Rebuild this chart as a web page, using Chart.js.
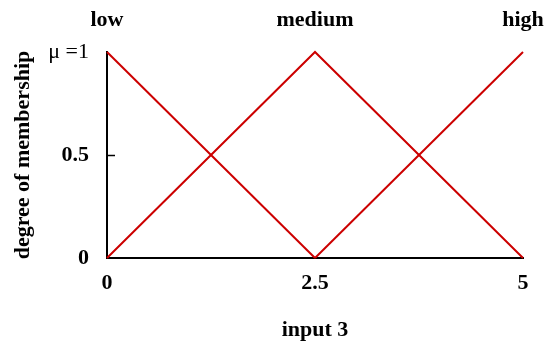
<!DOCTYPE html>
<html>
<head>
<meta charset="utf-8">
<script src="https://cdn.jsdelivr.net/npm/chart.js@4"></script>
<style>
  html, body { margin: 0; padding: 0; background: #fff; }
  #wrap { width: 550px; height: 347px; }
</style>
</head>
<body>
<div id="wrap"><canvas id="chart"></canvas></div>
<script>
// membership functions of input 3
const xValues = [0, 2.5, 5];
const lowValues = [1, 0, null];
const mediumValues = [0, 1, 0];
const highValues = [null, 0, 1];
const setNames = ['low', 'medium', 'high'];
const yTickValues = [0, 0.5, 1];
const yTickLabels = ['0', '0.5', '\u03BC =1'];

const serif = 'Liberation Serif, Times New Roman, serif';
const red = '#cc0000';

function points(ys) {
    return xValues.map((x, i) => ({ x: x, y: ys[i] }));
}

function series(ys) {
    return {
        data: points(ys),
        borderColor: red,
        borderWidth: 2,
        pointRadius: 0,
        showLine: true,
        fill: false,
        clip: false,
    };
}

// small inward tick at 0.5 on the y axis
const innerTick = {
    id: 'innerTick',
    afterDraw(chart) {
        const y = chart.scales.y;
        const ctx = chart.ctx;
        const py = Math.round(y.getPixelForValue(0.5)) + 0.5;
        ctx.save();
        ctx.strokeStyle = '#000';
        ctx.lineWidth = 1.5;
        ctx.beginPath();
        ctx.moveTo(chart.chartArea.left, py);
        ctx.lineTo(chart.chartArea.left + 8, py);
        ctx.stroke();
        ctx.restore();
    }
};

// keep the label overhang from shrinking the plot
function fitX(h) {
    return s => {
        s.height = h;
        s.paddingLeft = 0;
        s.paddingRight = 0;
    };
}

const ctx = document.getElementById('chart').getContext('2d');
const chart = new Chart(ctx, {
    type: 'scatter',
    data: {
        datasets: [series(lowValues), series(mediumValues), series(highValues)],
    },
    options: {
        responsive: true,
        maintainAspectRatio: false,
        animation: false,
        layout: { padding: { left: 0, right: 27, top: 0, bottom: 0 } },
        plugins: {
            legend: { display: false },
            tooltip: { enabled: false },
        },
        scales: {
            x: {
                type: 'linear',
                position: 'bottom',
                min: 0,
                max: 5,
                afterBuildTicks: s => { s.ticks = xValues.map(v => ({ value: v })); },
                afterFit: fitX(89),
                grid: { display: false, drawTicks: false },
                border: { display: true, color: '#000', width: 2 },
                ticks: {
                    autoSkip: false,
                    maxRotation: 0,
                    padding: 12,
                    color: '#000',
                    font: { family: serif, size: 22, weight: 'bold' },
                    callback: v => String(v),
                },
                title: {
                    display: true,
                    text: 'input 3',
                    color: '#000',
                    font: { family: serif, size: 22, weight: 'bold' },
                    padding: { top: 0, bottom: 3 },
                },
            },
            xTop: {
                type: 'linear',
                position: 'top',
                min: 0,
                max: 5,
                afterBuildTicks: s => { s.ticks = xValues.map(v => ({ value: v })); },
                afterFit: fitX(52),
                grid: { display: false, drawTicks: false },
                border: { display: false },
                ticks: {
                    autoSkip: false,
                    maxRotation: 0,
                    padding: 18,
                    color: '#000',
                    font: { family: serif, size: 22, weight: 'bold' },
                    callback: (v, i) => setNames[i],
                },
            },
            y: {
                min: 0,
                max: 1,
                afterBuildTicks: s => { s.ticks = yTickValues.map(v => ({ value: v })); },
                afterFit: s => { s.width = 107; },
                grid: { display: false, drawTicks: false },
                border: { display: true, color: '#000', width: 2 },
                ticks: {
                    autoSkip: false,
                    padding: 18,
                    color: '#000',
                    font: c => (c.tick && c.tick.value === 1)
                        ? { family: serif, size: 22, weight: 'normal' }
                        : { family: serif, size: 22, weight: 'bold' },
                    callback: (v, i) => yTickLabels[i],
                },
                title: {
                    display: true,
                    text: 'degree of membership',
                    color: '#000',
                    font: { family: serif, size: 22, weight: 'bold' },
                    padding: { top: 10, bottom: 0 },
                },
            },
        },
    },
    plugins: [innerTick],
});
</script>
</body>
</html>
